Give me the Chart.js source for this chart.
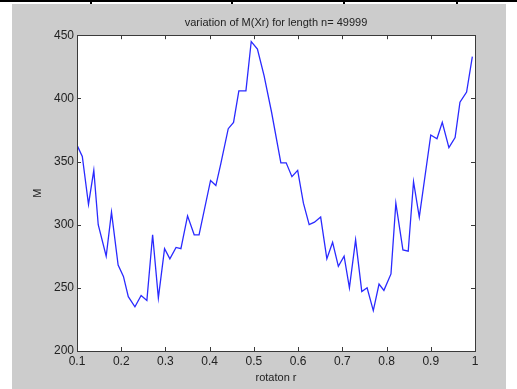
<!DOCTYPE html>
<html>
<head>
<meta charset="utf-8">
<script src="https://cdn.jsdelivr.net/npm/chart.js@4"></script>
<style>
  html, body { margin: 0; padding: 0; background: #fff; }
  #wrap { position: relative; width: 517px; height: 389px; overflow: hidden; }
  #fig { position: absolute; left: 12px; top: 4px; width: 494px; height: 385px; background: #cccccc; }
  .rule { position: absolute; background: #000; }
  canvas { position: absolute; left: 0; top: 0; }
</style>
</head>
<body>
<div id="wrap">
  <div id="fig"></div>
  <div class="rule" style="left:0;top:0;width:517px;height:2px"></div>
  <div class="rule" style="left:90px;top:0;width:2px;height:4px"></div>
  <div class="rule" style="left:231px;top:0;width:2px;height:4px"></div>
  <div class="rule" style="left:343px;top:0;width:2px;height:4px"></div>
  <div class="rule" style="left:456px;top:0;width:2px;height:4px"></div>
  <canvas id="chart" width="517" height="389"></canvas>
</div>
<script>
const r = [0.1, 0.112, 0.126, 0.138, 0.148, 0.166, 0.178, 0.193, 0.205, 0.216,
  0.231, 0.245, 0.258, 0.271, 0.284, 0.298, 0.31, 0.324, 0.335, 0.35,
  0.365, 0.376, 0.402, 0.414, 0.425, 0.442, 0.454, 0.466, 0.482, 0.494,
  0.508, 0.523, 0.54, 0.561, 0.573, 0.586, 0.599, 0.612, 0.625, 0.637,
  0.651, 0.665, 0.678, 0.691, 0.704, 0.716, 0.73, 0.744, 0.756, 0.77,
  0.783, 0.794, 0.81, 0.821, 0.837, 0.849, 0.861, 0.874, 0.9, 0.914,
  0.926, 0.941, 0.955, 0.966, 0.981, 0.994]
const M = [363, 354, 316, 343, 300, 275, 310, 268, 259, 243,
  235, 244, 240, 292, 242, 281, 273, 282, 281, 307,
  292, 292, 335, 331, 348, 376, 381, 406, 406, 445,
  439, 418, 389, 349, 349, 338, 343, 317, 300, 302,
  306, 273, 286, 267, 275, 250, 288, 247, 250, 232,
  253, 248, 261, 317, 280, 279, 334, 306, 371, 368,
  381, 361, 369, 397, 405, 433]

const xTicks = [0.1, 0.2, 0.3, 0.4, 0.5, 0.6, 0.7, 0.8, 0.9, 1]
const yTicks = [200, 250, 300, 350, 400, 450]

const FONT = 'Liberation Sans, Arial, sans-serif'

// MATLAB style box: white axes, dark frame, inward ticks on all four sides
const boxPlugin = {
  id: 'box',
  beforeDraw(chart) {
    const { ctx, chartArea: a } = chart
    ctx.save()
    ctx.fillStyle = '#fff'
    ctx.fillRect(a.left, a.top, a.right - a.left, a.bottom - a.top)
    ctx.restore()
  },
  afterDraw(chart) {
    const { ctx, chartArea: a, scales } = chart
    const L = 4
    ctx.save()
    ctx.strokeStyle = '#3a3a3a'
    ctx.lineWidth = 1
    ctx.beginPath()
    xTicks.forEach(v => {
      const x = Math.round(scales.x.getPixelForValue(v)) + 0.5
      ctx.moveTo(x, a.bottom); ctx.lineTo(x, a.bottom - L)
      ctx.moveTo(x, a.top); ctx.lineTo(x, a.top + L)
    })
    yTicks.forEach(v => {
      const y = Math.round(scales.y.getPixelForValue(v)) + 0.5
      ctx.moveTo(a.left, y); ctx.lineTo(a.left + L, y)
      ctx.moveTo(a.right, y); ctx.lineTo(a.right - L, y)
    })
    ctx.stroke()
    ctx.strokeRect(Math.round(a.left) + 0.5, Math.round(a.top) + 0.5,
      Math.round(a.right - a.left), Math.round(a.bottom - a.top))
    ctx.restore()
  }
}

new Chart(document.getElementById('chart'), {
  type: 'line',
  data: {
    datasets: [{
      data: r.map((x, i) => ({ x, y: M[i] })),
      borderColor: '#2a2aff',
      borderWidth: 1.3,
      pointRadius: 0,
      tension: 0,
      fill: false
    }]
  },
  options: {
    responsive: false,
    animation: false,
    events: [],
    layout: { padding: { left: 0, right: 42, top: 0, bottom: 0 } },
    plugins: {
      legend: { display: false },
      tooltip: { enabled: false },
      title: {
        display: true,
        fullSize: false,
        text: 'variation of M(Xr) for length n= 49999',
        color: '#222',
        font: { family: FONT, size: 11, weight: 'normal' },
        padding: { top: 16, bottom: 6 }
      }
    },
    scales: {
      x: {
        type: 'linear',
        min: 0.1,
        max: 1,
        afterBuildTicks: s => { s.ticks = xTicks.map(value => ({ value })) },
        afterFit: s => { s.height = 38 },
        grid: { display: false, drawTicks: false },
        border: { display: false },
        ticks: {
          padding: 3,
          color: '#222',
          font: { family: FONT, size: 12 },
          maxRotation: 0,
          autoSkip: false,
          callback: v => String(+v.toFixed(1))
        },
        title: {
          display: true,
          text: 'rotaton r',
          color: '#222',
          font: { family: FONT, size: 11 },
          padding: { top: 0, bottom: 4 }
        }
      },
      y: {
        min: 200,
        max: 450,
        afterBuildTicks: s => { s.ticks = yTicks.map(value => ({ value })) },
        afterFit: s => { s.width = 77 },
        grid: { display: false, drawTicks: false },
        border: { display: false },
        ticks: {
          padding: 3,
          color: '#222',
          font: { family: FONT, size: 12 },
          autoSkip: false
        },
        title: {
          display: true,
          text: 'M',
          color: '#222',
          font: { family: FONT, size: 11 },
          padding: { top: 31, bottom: 0 }
        }
      }
    }
  },
  plugins: [boxPlugin]
})
</script>
</body>
</html>
